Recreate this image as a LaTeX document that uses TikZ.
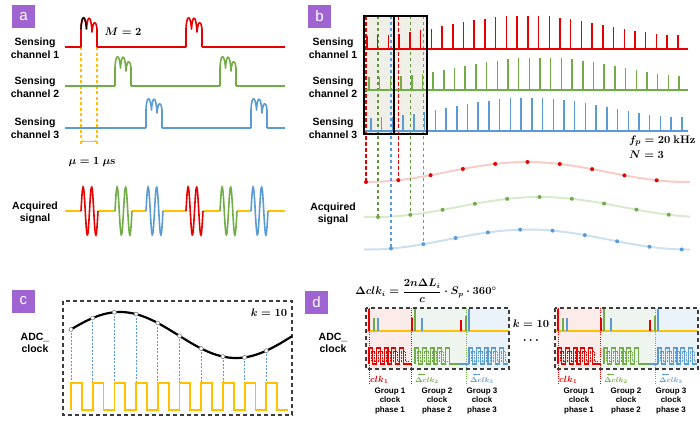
\documentclass[tikz,border=0pt]{standalone}
\usepackage[no-math]{fontspec}
\setmainfont{Liberation Sans}
\usepackage{amsmath}
\usetikzlibrary{arrows.meta}
\definecolor{cR}{RGB}{230,0,0}
\definecolor{cG}{RGB}{112,173,71}
\definecolor{cB}{RGB}{91,155,213}
\definecolor{cY}{RGB}{255,192,0}
\definecolor{cP}{RGB}{160,100,210}
\definecolor{cRl}{RGB}{248,205,200}
\definecolor{cGl}{RGB}{216,234,204}
\definecolor{cBl}{RGB}{204,224,243}
\definecolor{boxfill}{RGB}{240,239,232}
\definecolor{tR}{RGB}{252,236,233}
\definecolor{tG}{RGB}{238,245,238}
\definecolor{tB}{RGB}{234,242,250}
\definecolor{dk}{RGB}{60,60,60}

\newcommand\pulseA[3]{\draw[#3, line width=1.6, line join=round] (#1,#2) -- (#1,{#2-18}) .. controls ({#1+0.5},{#2-33}) and ({#1+4.5},{#2-33}) .. ({#1+5.5},{#2-18}) .. controls ({#1+6.5},{#2-33}) and ({#1+10},{#2-33}) .. ({#1+11},{#2-15}) .. controls ({#1+12},{#2-27}) and ({#1+15},{#2-27}) .. ({#1+16},{#2-18}) -- ({#1+16},#2);}
\newcommand\burst[2]{\draw[#2, line width=1.6] plot[domain=0:17, samples=50, smooth] ({#1+\x},{211-24*sin(42.353*\x)});}
\newcommand\sqw[5]{% x0, last index, end x, color, last dashed index
  \draw[#4, line width=1.3] (#1,364) \foreach \k in {0,...,#2}{ -- ({#1+7.6*\k},348) -- ({#1+7.6*\k+3.8},348) -- ({#1+7.6*\k+3.8},364) -- ({#1+7.6*\k+7.6},364)} -- (#3,364);
  \draw[#4, line width=0.8, dash pattern=on 1.5pt off 1pt] ({#1+1.9},361) \foreach \k in {0,...,#5}{ -- ({#1+1.9+7.6*\k},351) -- ({#1+1.9+7.6*\k+3.8},351) -- ({#1+1.9+7.6*\k+3.8},361) -- ({#1+1.9+7.6*\k+7.6},361)};
}
\newcommand\dgroup[1]{%
  \fill[tR] (366,308) rectangle (412,369);
  \fill[tG] (412,308) rectangle (467,369);
  \fill[tB] (467,308) rectangle (509,369);
  \draw[cR, line width=0.7, dash pattern=on 1pt off 1.2pt] (369,308) -- (369,384);
  \draw[cR, line width=0.7, dash pattern=on 1pt off 1.2pt] (411,308) -- (411,384);
  \draw[cG, line width=0.7, dash pattern=on 1pt off 1.2pt] (466,308) -- (466,384);
  \draw[cY, line width=1.5] (366,331) -- (509,331);
  \draw[cR, line width=1.6] (369,309) -- (369,331);
  \draw[cG, line width=1.3] (374,318) -- (374,331);
  \draw[cB, line width=1.3] (378,318) -- (378,331);
  \draw[cR, line width=1.3] (412,318) -- (412,331);
  \draw[cG, line width=1.6] (415,309) -- (415,331);
  \draw[cB, line width=1.3] (422,318) -- (422,331);
  \draw[cR, line width=1.3] (461,320) -- (461,331);
  \draw[cG, line width=1.3] (466,316) -- (466,331);
  \draw[cB, line width=1.6] (469,309) -- (469,331);
  \sqw{369}{4}{412}{cR}{4}
  \sqw{415}{4}{460}{cG}{3}
  \draw[cB, line width=1.3] (460,364) -- (469,364);
  \sqw{469}{4}{508}{cB}{4}
  \draw[dk, line width=1.3, dash pattern=on 4pt off 3pt] (366,308) rectangle (509,369);
  \node[cR, sm, anchor=west] (#1c1) at (370,380) {$clk_1$};
  \node[cG, smm, anchor=west] (#1c2) at (415,380.5) {$\Delta clk_2$};
  \node[cB, smm, anchor=west] (#1c3) at (470,380.5) {$\Delta clk_3$};
  \draw[cG, line width=0.6, -{Stealth[length=2pt,width=2pt]}] (425,374.5) -- (418,374.5);
  \draw[cB, line width=0.6, -{Stealth[length=2pt,width=2pt]}] (480,374.5) -- (473,374.5);
  \node[glab] (#1g1) at (390,401) {Group 1\\clock\\phase 1};
  \node[glab] (#1g2) at (437,401) {Group 2\\clock\\phase 2};
  \node[glab] (#1g3) at (482,401) {Group 3\\clock\\phase 3};
}

\begin{document}
\begin{tikzpicture}[x=1pt,y=-1pt,
  lab/.style={font=\fontsize{10.5}{12.5}\selectfont\bfseries, align=center, inner sep=0pt},
  glab/.style={font=\fontsize{8}{9.5}\selectfont\bfseries, align=center, inner sep=0pt},
  tag/.style={fill=cP, text=white, minimum width=23pt, minimum height=23pt, inner sep=0pt, font=\fontsize{15}{15}\selectfont},
  mth/.style={font=\fontsize{11}{13.5}\selectfont\boldmath, inner sep=0pt},
  sm/.style={font=\fontsize{9}{10}\selectfont\boldmath, inner sep=0pt},
  smm/.style={font=\fontsize{7.5}{9}\selectfont\boldmath, inner sep=0pt},
  spk/.style={line width=1.5}]
\useasboundingbox (0,0) rectangle (700,421);

% ---------------- panel a ----------------
\node[tag] (ta) at (23.5,16.5) {a};
\node[lab] (a1) at (35,48) {Sensing\\channel 1};
\node[lab] (a2) at (35,87) {Sensing\\channel 2};
\node[lab] (a3) at (35,128) {Sensing\\channel 3};
\node[lab] (a4) at (35,213) {Acquired\\signal};
\coordinate (ya1) at (81,47); \coordinate (ya2) at (81,144);
\coordinate (yb1) at (97,47); \coordinate (yb2) at (97,144);
\draw[cY, line width=1.2, dash pattern=on 3pt off 2.5pt] (ya1) -- (ya2);
\draw[cY, line width=1.2, dash pattern=on 3pt off 2.5pt] (yb1) -- (yb2);
\draw[cY, line width=0.9, {Stealth[length=2.5pt,width=2.5pt]}-{Stealth[length=2.5pt,width=2.5pt]}] (81,141) -- (97,141);
\node[mth] (mu) at (92,162) {$\mu=1\ \mu\mathrm{s}$};
\node[mth] (mm) at (123,32) {$M=2$};
\draw[cR, line width=1.6] (65,47) -- (81,47) (97,47) -- (186,47) (202,47) -- (285,47);
\pulseA{81}{47}{cR}\pulseA{186}{47}{cR}
\draw[black!85!red, line width=1.6] (81,29) .. controls (81.5,14) and (85.5,14) .. (86.5,29);
\draw[cG, line width=1.6] (65,86) -- (115,86) (131,86) -- (220,86) (236,86) -- (285,86);
\pulseA{115}{86}{cG}\pulseA{220}{86}{cG}
\draw[cB, line width=1.6] (65,128) -- (146,128) (162,128) -- (251,128) (267,128) -- (285,128);
\pulseA{146}{128}{cB}\pulseA{251}{128}{cB}
\draw[cY, line width=1.6] (65,211) -- (81,211) (98,211) -- (115,211) (132,211) -- (146,211) (163,211) -- (186,211) (203,211) -- (220,211) (237,211) -- (251,211) (268,211) -- (285,211);
\burst{81}{cR}\burst{115}{cG}\burst{146}{cB}\burst{186}{cR}\burst{220}{cG}\burst{251}{cB}

% ---------------- panel b ----------------
\node[tag] (tb) at (319.5,16.5) {b};
\node[lab] (b1) at (333,48) {Sensing\\channel 1};
\node[lab] (b2) at (333,87) {Sensing\\channel 2};
\node[lab] (b3) at (333,128) {Sensing\\channel 3};
\node[lab] (b4) at (333,214) {Acquired\\signal};
\fill[boxfill] (364,16) rectangle (427,134);
\coordinate (btop) at (0,16);
% pale curves
\draw[cRl, line width=2] plot[domain=364:690, samples=80, smooth] (\x,{172-10*cos(1.125*(\x-527))});
\draw[cGl, line width=2] plot[domain=364:690, samples=80, smooth] (\x,{207-10*cos(1.0909*(\x-540))});
\draw[cBl, line width=2] plot[domain=364:690, samples=80, smooth] (\x,{239.5-10*cos(1.125*(\x-528))});
% sample coordinates
\foreach \i in {0,...,9}{
  \pgfmathsetmacro\xx{366+32.3*\i}\pgfmathsetmacro\yy{172-10*cos(1.125*(\xx-527))}
  \coordinate (rd\i) at (\xx,\yy);
  \pgfmathsetmacro\xx{378+32.3*\i}\pgfmathsetmacro\yy{207-10*cos(1.0909*(\xx-540))}
  \coordinate (gd\i) at (\xx,\yy);
  \pgfmathsetmacro\xx{391+32.3*\i}\pgfmathsetmacro\yy{239.5-10*cos(1.125*(\xx-528))}
  \coordinate (bd\i) at (\xx,\yy);
}
\foreach \i in {0,1}{
  \draw[cR, line width=1.3, dash pattern=on 3.5pt off 2.5pt] (rd\i |- btop) -- (rd\i);
  \draw[cG!85!black, line width=1.1, dash pattern=on 3pt off 3pt] (gd\i |- btop) -- (gd\i);
  \draw[cB, line width=1.1, dash pattern=on 3pt off 3pt] (bd\i |- btop) -- (bd\i);
}
% spikes
\foreach \i in {0,...,29}{
  \pgfmathsetmacro\xx{367+10.72*\i}\pgfmathsetmacro\hh{23.5+10*cos(1.125*(\xx-527))}
  \draw[spk, cR] (\xx,49) -- (\xx,{49-\hh});
  \pgfmathsetmacro\xx{369+10.69*\i}\pgfmathsetmacro\hh{22.5+10*cos(1.0909*(\xx-540))}
  \draw[spk, cG] (\xx,90) -- (\xx,{90-\hh});
  \pgfmathsetmacro\xx{371+10.72*\i}\pgfmathsetmacro\hh{23.5+10*cos(1.125*(\xx-530))}
  \draw[spk, cB] (\xx,131) -- (\xx,{131-\hh});
}
\draw[cR, line width=1.8] (364,49) -- (688,49);
\draw[cG, line width=1.8] (364,90) -- (688,90);
\draw[cB, line width=1.8] (364,131) -- (688,131);
\draw[black, line width=1.2] (364,16) rectangle (394,134) (394,16) rectangle (427,134);
\foreach \i in {0,...,9}{
  \fill[cR] (rd\i) circle (2pt);
  \fill[cG] (gd\i) circle (2pt);
  \fill[cB] (bd\i) circle (2pt);
}
\node[mth, anchor=west] (fp) at (629,141) {$f_p=20\ \mathbf{kHz}$};
\node[mth, anchor=west] (nn) at (629,155) {$N=3$};

% ---------------- panel c ----------------
\node[tag] (tc) at (23.5,301) {c};
\node[lab] (c1) at (35,343) {ADC\_\\clock};
\draw[dk, line width=1.3, dash pattern=on 4pt off 3pt] (63,301) rectangle (292,415);
\node[mth] (kk) at (269,313) {$k=10$};
\foreach \i in {0,...,9}{
  \pgfmathsetmacro\xx{71+21.7*\i}\pgfmathsetmacro\yy{335-23*sin(1.5517*(\xx-62))}
  \coordinate (cd\i) at (\xx,\yy);
  \coordinate (cq\i) at (\xx,383);
  \draw[cB, line width=0.8, dash pattern=on 2pt off 1.5pt] (cd\i) -- (cq\i);
}
\draw[cY, line width=1.8] (71,410) \foreach \i in {0,...,9}{ -- ({71+21.7*\i},383) -- ({71+21.7*\i+10.85},383) -- ({71+21.7*\i+10.85},410) -- ({71+21.7*\i+21.7},410)};
\draw[black, line width=2.2] plot[domain=71:292, samples=80, smooth] (\x,{335-23*sin(1.5517*(\x-62))});
\foreach \i in {0,...,9}{ \draw[gray, fill=white, line width=0.6] (cd\i) circle (2pt); }

% ---------------- panel d ----------------
\node[tag] (td) at (316.5,302.5) {d};
\node[lab] (d1) at (333,343) {ADC\_\\clock};
\node[font=\fontsize{10.5}{12}\selectfont\boldmath, inner sep=0pt] (form) at (426,291) {$\Delta clk_i=\dfrac{2n\Delta L_i}{c}\cdot S_p\cdot 360^\circ$};
\dgroup{p}
\begin{scope}[xshift=189pt]
\dgroup{q}
\end{scope}
\node[mth] (k2) at (531,324) {$k=10$};
\node[font=\fontsize{13}{13}\selectfont\boldmath, inner sep=0pt] (dots) at (532,341) {$\cdots$};
\end{tikzpicture}
\end{document}
